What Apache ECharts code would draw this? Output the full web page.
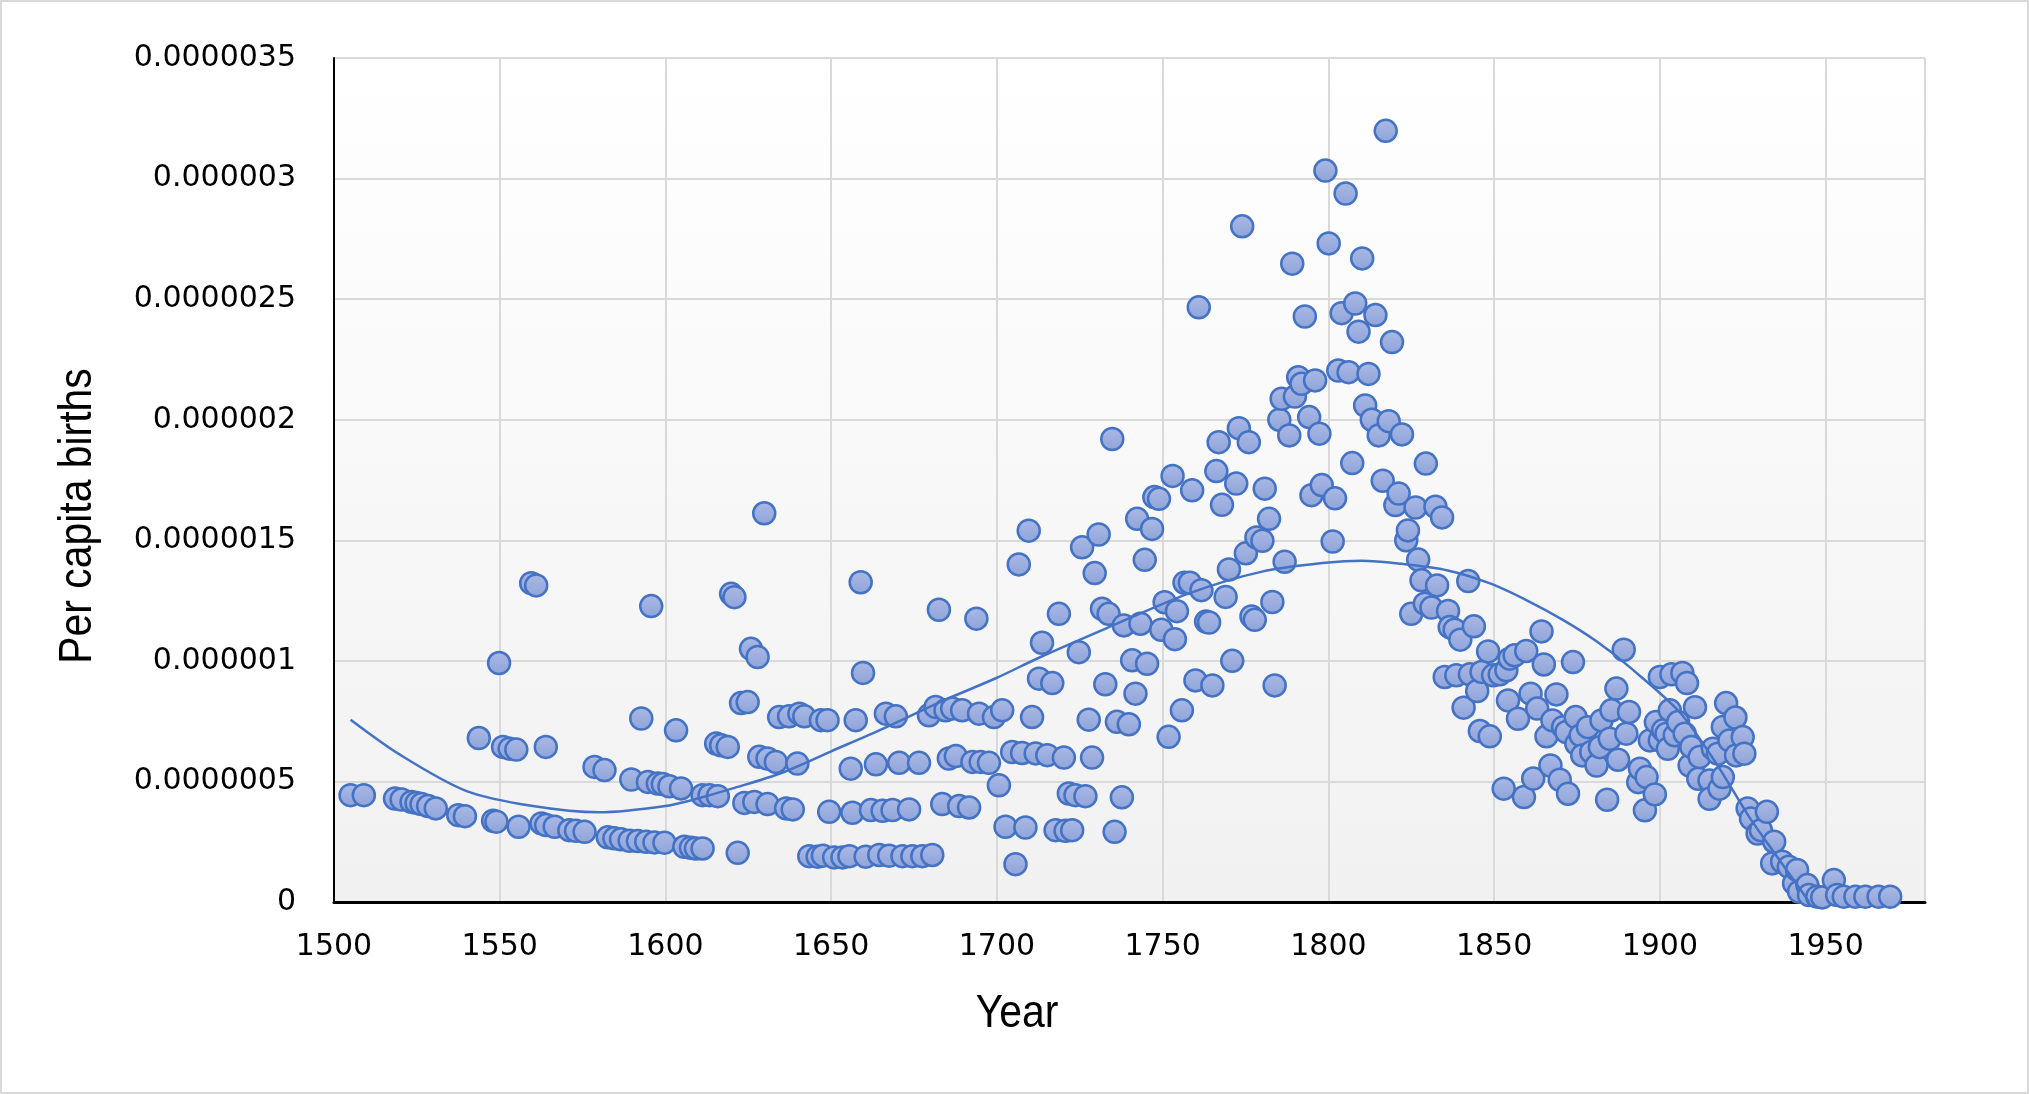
<!DOCTYPE html>
<html lang="en">

<head>
  <meta charset="UTF-8">
  <title>Per capita births</title>
  <script src="https://cdn.jsdelivr.net/npm/echarts@6/dist/echarts.min.js"></script>
  <style>
    html, body { margin: 0; padding: 0; background: #fff; }
    #chart {
      width: 2029px;
      height: 1094px;
      box-sizing: border-box;
      border: 2px solid #d9d9d9;
    }
  </style>
</head>

<body>
  <div id="chart"></div>
  <script>
    // per capita births, in units of 1e-7: [year, value]
    var births1500s = [
      [1505, 4.43], [1509, 4.43], [1518.4, 4.29], [1520.4, 4.25], [1523.4, 4.15], [1524.9, 4.11], [1526.4, 4.06],
      [1528.4, 3.98], [1530.7, 3.88], [1537.5, 3.60], [1539.5, 3.56], [1543.7, 6.80], [1548, 3.37], [1549, 3.33],
      [1549.8, 9.91], [1551, 6.43], [1553, 6.36], [1555, 6.32], [1555.7, 3.12], [1559.5, 13.22], [1561, 13.13],
      [1562.6, 3.26], [1563.9, 6.43], [1564, 3.19], [1566.6, 3.12], [1571, 2.98], [1573, 2.95], [1575.6, 2.91],
      [1578.6, 5.60], [1581.6, 5.47], [1582.6, 2.68], [1584.6, 2.64], [1586.6, 2.60], [1589.2, 2.54], [1589.7, 5.08],
      [1591.7, 2.53], [1592.7, 7.61], [1594.2, 2.50], [1594.7, 4.98], [1595.7, 12.27], [1596.7, 2.47], [1597.7, 4.91],
      [1599.2, 4.89], [1599.7, 2.46]
    ];
    var births1600s = [
      [1601.2, 4.80], [1603.2, 7.12], [1604.7, 4.71], [1605.7, 2.29], [1607.7, 2.25], [1609.2, 2.22], [1611.2, 2.22],
      [1611.2, 4.43], [1613.3, 4.43], [1615.3, 6.57], [1615.8, 4.39], [1616.8, 6.50], [1618.8, 6.43], [1619.8, 12.78],
      [1620.8, 12.64], [1621.8, 2.04], [1622.8, 8.25], [1623.8, 4.11], [1624.8, 8.29], [1625.8, 10.50], [1626.8, 4.15],
      [1627.8, 10.16], [1628.3, 6.02], [1629.8, 16.12], [1630.8, 5.95], [1630.8, 4.06], [1633.3, 5.81], [1634.3, 7.67],
      [1636.4, 3.88], [1637.3, 7.70], [1638.4, 3.84], [1639.8, 5.74], [1640.4, 7.81], [1641.9, 7.70], [1643.4, 1.90],
      [1645.9, 1.88], [1646.9, 7.54], [1647.5, 1.92], [1648.9, 7.54], [1649.4, 3.74], [1650.9, 1.85], [1653.4, 1.85],
      [1655.5, 1.90], [1655.9, 5.53], [1656.4, 3.70], [1657.4, 7.54], [1658.9, 13.26], [1659.6, 9.50], [1660.4, 1.88],
      [1662, 3.81], [1663.5, 5.71], [1664.5, 1.95], [1665.5, 3.78], [1666.5, 7.81], [1667.5, 1.92], [1668.5, 3.81],
      [1669.5, 7.70], [1670.5, 5.77], [1671.5, 1.90], [1673.5, 3.84], [1674.5, 1.90], [1676.5, 5.77], [1677.5, 1.90],
      [1679.5, 7.74], [1680.5, 1.95], [1681.5, 8.09], [1682.5, 12.12], [1683.5, 4.06], [1684.5, 7.95], [1685.5, 5.95],
      [1686.5, 8.02], [1687.6, 6.05], [1688.6, 3.98], [1689.5, 7.95], [1691.6, 3.92], [1692.6, 5.81], [1693.8, 11.75],
      [1694.6, 7.81], [1695.1, 5.81], [1697.6, 5.77], [1699.1, 7.67]
    ];
    var births1700s = [
      [1700.6, 4.84], [1701.6, 7.95], [1702.6, 3.12], [1704.6, 6.22], [1705.6, 1.57], [1706.6, 14.0], [1707.6, 6.18],
      [1708.6, 3.09], [1709.6, 15.40], [1710.6, 7.67], [1711.7, 6.16], [1712.7, 9.26], [1713.6, 10.75], [1715.2, 6.09],
      [1716.7, 9.08], [1717.7, 2.98], [1718.7, 11.95], [1720.2, 5.99], [1720.7, 2.95], [1721.7, 4.50], [1722.7, 2.98],
      [1723.7, 4.43], [1724.7, 10.36], [1725.7, 14.71], [1726.7, 4.39], [1727.7, 7.56], [1728.7, 5.99], [1729.5, 13.64],
      [1730.7, 15.24], [1731.7, 12.16], [1732.7, 9.03], [1733.7, 11.95], [1734.8, 19.20], [1735.5, 2.91], [1736.2, 7.47],
      [1737.7, 4.34], [1738.3, 11.47], [1739.8, 7.37], [1740.8, 10.02], [1741.8, 8.64], [1742.3, 15.89], [1743.3, 11.54],
      [1744.6, 14.19], [1745.3, 9.88], [1746.8, 15.47], [1747.5, 16.79], [1748.9, 16.72], [1749.6, 11.29], [1750.6, 12.43],
      [1751.8, 6.85], [1753.0, 17.67], [1753.7, 10.90], [1754.3, 12.06], [1755.8, 7.95], [1756.6, 13.24], [1758.2, 13.24],
      [1758.9, 17.07], [1759.9, 9.19], [1760.9, 24.66], [1761.7, 12.93], [1763.1, 11.63], [1764.0, 11.59], [1765.0, 8.98],
      [1766.2, 17.87], [1766.9, 19.07], [1767.9, 16.47], [1769.0, 12.65], [1770.0, 13.79], [1771.0, 10.0], [1772.2, 17.35],
      [1773.0, 19.65], [1774.0, 28.02], [1775.1, 14.46], [1776.0, 19.07], [1776.8, 11.84], [1777.8, 11.70], [1778.3, 15.12],
      [1780.1, 14.98], [1780.8, 17.14], [1782.1, 15.89], [1783.1, 12.44], [1783.8, 8.98], [1785.2, 20.0], [1785.9, 20.87],
      [1786.8, 14.11], [1788.2, 19.35], [1789.1, 26.47], [1789.9, 20.96], [1790.9, 21.76], [1791.9, 21.49], [1792.9, 24.28],
      [1794.2, 20.11], [1794.9, 16.87], [1796.0, 21.63], [1797.3, 19.42], [1798.0, 17.29], [1799.1, 30.33]
    ];
    var births1800s = [
      [1800.1, 27.31], [1801.3, 14.95], [1802.0, 16.74], [1803.0, 22.04], [1804.0, 24.42], [1805.2, 29.38], [1806.1, 21.97],
      [1807.2, 18.20], [1808.1, 24.82], [1809.1, 23.65], [1810.2, 26.69], [1811.1, 20.59], [1812.1, 21.90], [1813.1, 20.0],
      [1814.2, 24.34], [1815.2, 19.35], [1816.4, 17.47], [1817.3, 31.98], [1818.2, 19.94], [1819.2, 23.22], [1820.2, 16.46],
      [1821.2, 16.94], [1822.2, 19.39], [1823.5, 15.0], [1824.0, 15.41], [1825.0, 11.95], [1826.3, 16.36], [1827.1, 14.20],
      [1828.1, 13.34], [1829.1, 12.37], [1829.4, 18.18], [1831.1, 12.21], [1832.3, 16.39], [1832.8, 13.13], [1834.3, 15.95],
      [1835.1, 9.33], [1836.1, 12.07], [1836.6, 11.40], [1838.1, 11.29], [1838.6, 9.40], [1839.8, 10.88], [1840.8, 8.06],
      [1842.2, 13.31], [1842.7, 9.44], [1843.9, 11.43], [1844.9, 8.75], [1845.7, 7.09], [1846.2, 9.54], [1848.2, 10.39],
      [1848.7, 6.87], [1849.7, 9.40], [1851.7, 9.44], [1852.9, 4.70], [1853.7, 9.61], [1854.2, 8.36], [1854.7, 10.09],
      [1856.2, 10.23], [1857.2, 7.60], [1859.0, 4.35], [1859.7, 10.41], [1861.0, 8.64], [1861.8, 5.12], [1863.0, 8.02],
      [1864.3, 11.22], [1865.0, 9.85], [1865.8, 6.87], [1867.0, 5.66], [1867.6, 7.53], [1868.8, 8.61], [1869.8, 5.07],
      [1870.8, 7.25], [1871.8, 7.05], [1872.3, 4.49], [1873.8, 9.95], [1874.6, 7.67], [1874.8, 6.56], [1876.1, 6.91],
      [1876.6, 6.08], [1878.3, 7.25], [1879.3, 6.22], [1880.9, 5.66], [1881.9, 6.42], [1882.4, 7.53], [1884.1, 4.24],
      [1884.9, 6.77], [1885.4, 7.95], [1886.9, 8.85], [1887.4, 5.90], [1889.1, 10.46], [1889.9, 6.98], [1890.7, 7.88],
      [1893.5, 4.97], [1894.0, 5.53], [1895.5, 3.80], [1896.0, 5.18], [1897.0, 6.70], [1898.5, 4.46], [1898.8, 7.46]
    ];
    var births1900s = [
      [1900.0, 9.33], [1900.0, 6.70], [1901.0, 7.12], [1902.0, 6.98], [1902.4, 6.35], [1903.0, 7.95], [1903.5, 9.44],
      [1904.5, 6.91], [1905.5, 7.46], [1906.8, 9.50], [1907.5, 6.98], [1908.2, 9.08], [1909.0, 5.66], [1909.5, 6.43],
      [1910.6, 8.08], [1911.6, 5.11], [1912.0, 6.01], [1915.0, 5.04], [1915.0, 4.28], [1916.0, 6.36], [1917.5, 6.15],
      [1918.0, 4.70], [1919.0, 5.18], [1919.0, 7.26], [1920.0, 8.25], [1921.0, 6.70], [1922.8, 7.65], [1923.0, 6.08],
      [1925.0, 6.84], [1925.5, 6.15], [1926.5, 3.88], [1927.5, 3.46], [1929.5, 2.84], [1930.5, 2.98], [1932.3, 3.74],
      [1933.9, 1.60], [1934.5, 2.50], [1936.9, 1.67], [1938.9, 1.46], [1940.5, 0.77], [1941.4, 1.33], [1942.0, 0.43],
      [1944.5, 0.70], [1945.0, 0.29], [1947.5, 0.22], [1949.0, 0.19], [1952.5, 0.91], [1953.5, 0.29], [1955.5, 0.22],
      [1959.0, 0.22], [1962.0, 0.22], [1966.0, 0.22], [1969.5, 0.22]
    ];

    // trendline as drawn in the picture (same units)
    var trendYears = [1505, 1520, 1540, 1560, 1580, 1600, 1610, 1620, 1635, 1650, 1665, 1683, 1700, 1713, 1733, 1758,
      1780, 1800, 1810, 1821, 1836, 1849, 1860, 1871, 1881, 1891, 1906, 1917, 1927, 1935, 1942, 1945];
    var trendValues = [7.56, 6.10, 4.60, 3.98, 3.72, 3.98, 4.30, 4.70, 5.35, 6.25, 7.15, 8.30, 9.30, 10.15, 11.35, 12.80,
      13.70, 14.08, 14.15, 14.04, 13.75, 13.20, 12.50, 11.68, 10.80, 9.73, 7.87, 5.75, 3.52, 1.95, 0.60, 0];

    var UNIT = 1e-7;

    var points = births1500s.concat(births1600s, births1700s, births1800s, births1900s).map(function (p) {
      return [p[0], p[1] * UNIT];
    });
    var trend = trendYears.map(function (y, i) {
      return [y, trendValues[i] * UNIT];
    });

    var labelFont = { fontFamily: 'DejaVu Sans', fontSize: 30, color: '#000' };
    // narrow look of the axis titles: Liberation Sans squeezed horizontally
    var titleFont = '47px "Liberation Sans", Arial, sans-serif';

    var chart = echarts.init(document.getElementById('chart'));
    chart.setOption({
      animation: false,
      grid: {
        left: 332,
        top: 56,
        right: 102,
        bottom: 190,
        containLabel: false,
        outerBoundsMode: 'none',
        show: true,
        borderWidth: 0,
        backgroundColor: new echarts.graphic.LinearGradient(0, 0, 0, 1, [
          { offset: 0, color: '#ffffff' },
          { offset: 1, color: '#f1f1f1' }
        ])
      },
      xAxis: {
        type: 'value',
        min: 1500,
        max: 1980,
        interval: 50,
        axisLine: { show: true, onZero: false, lineStyle: { color: '#000', width: 3 } },
        axisTick: { show: false },
        splitLine: { show: true, lineStyle: { color: '#d9d9d9', width: 2 } },
        axisLabel: Object.assign({
          margin: 30,
          formatter: function (v) { return v > 1950 ? '' : String(v); }
        }, labelFont)
      },
      yAxis: {
        type: 'value',
        min: 0,
        max: 3.5e-6,
        interval: 5e-7,
        axisLine: { show: true, lineStyle: { color: '#000', width: 2 } },
        axisTick: { show: false },
        splitLine: { show: true, lineStyle: { color: '#d9d9d9', width: 2 } },
        axisLabel: Object.assign({
          margin: 38,
          formatter: function (v) {
            return v.toFixed(7).replace(/0+$/, '').replace(/\.$/, '');
          }
        }, labelFont)
      },
      graphic: [
        {
          type: 'text',
          x: 1015,
          y: 1012,
          scaleX: 0.87,
          style: {
            text: 'Year', font: titleFont, fill: '#000',
            align: 'center', verticalAlign: 'middle'
          }
        },
        {
          type: 'text',
          x: 76,
          y: 514,
          rotation: Math.PI / 2,
          scaleX: 0.87,
          style: {
            text: 'Per capita births', font: titleFont, fill: '#000',
            align: 'center', verticalAlign: 'middle'
          }
        }
      ],
      series: [
        {
          type: 'scatter',
          data: points,
          symbol: 'circle',
          symbolSize: 22,
          itemStyle: {
            color: new echarts.graphic.LinearGradient(0, 0, 0, 1, [
              { offset: 0, color: '#abbae6' },
              { offset: 1, color: '#8ea3d8' }
            ]),
            borderColor: '#4472c4',
            borderWidth: 2.5,
            opacity: 1
          },
          z: 2
        },
        {
          type: 'line',
          data: trend,
          smooth: 0.3,
          showSymbol: false,
          lineStyle: { color: '#4472c4', width: 2.5 },
          z: 3
        }
      ]
    });
  </script>
</body>

</html>
